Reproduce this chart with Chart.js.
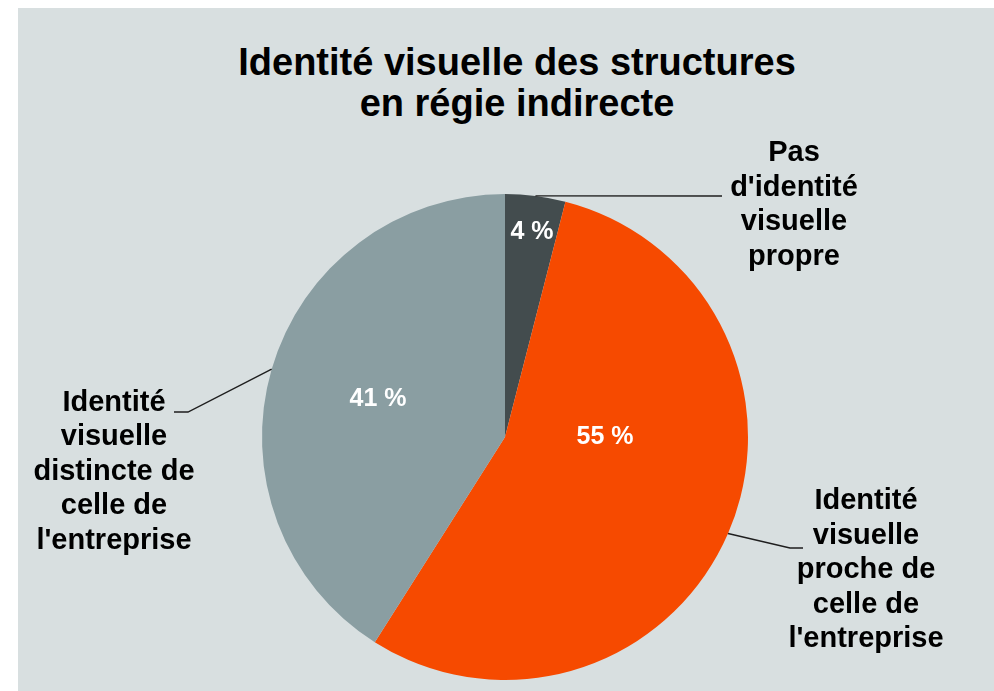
<!DOCTYPE html>
<html lang="fr">
<head>
<meta charset="utf-8">
<title>Identité visuelle des structures en régie indirecte</title>
<script src="https://cdn.jsdelivr.net/npm/chart.js@4"></script>
<style>
  html, body { margin: 0; padding: 0; background: #fff; }
  #wrap { position: relative; width: 994px; height: 691px; overflow: hidden; }
  #panel { position: absolute; left: 18px; top: 8px; right: 0; bottom: 0; background: #d8dfe0; }
  #title {
    position: absolute; left: 517px; top: 42px; transform: translateX(-50%);
    white-space: nowrap; text-align: center; color: #000;
    font: bold 38px/41px "Liberation Sans", Arial, sans-serif;
  }
  canvas { position: absolute; left: 0; top: 0; }
</style>
</head>
<body>
<div id="wrap">
  <div id="panel"></div>
  <div id="title">Identité visuelle des structures<br>en régie indirecte</div>
  <canvas id="chart" width="994" height="691"></canvas>
</div>
<script>
// data
const categories = [
  "Pas d'identité visuelle propre",
  "Identité visuelle proche de celle de l'entreprise",
  "Identité visuelle distincte de celle de l'entreprise"
];
const shares = [4, 55, 41];
const labelLines = [
  ["Pas", "d'identité", "visuelle", "propre"],
  ["Identité", "visuelle", "proche de", "celle de", "l'entreprise"],
  ["Identité", "visuelle", "distincte de", "celle de", "l'entreprise"]
];
const sliceColors = ["#434c4e", "#f64a00", "#8a9ea2"];

const FONT = '"Liberation Sans", Arial, sans-serif';

// percentage labels + outside labels with leader lines (offsets from pie centre)
const calloutPlugin = {
  id: "callouts",
  afterDatasetsDraw(chart, args, opts) {
    const ctx = chart.ctx;
    const meta = chart.getDatasetMeta(0);
    meta.data.forEach((arc, i) => {
      const { x, y, startAngle, endAngle, outerRadius } =
        arc.getProps(["x", "y", "startAngle", "endAngle", "outerRadius"], true);
      const p = opts.slices[i];
      const mid = (startAngle + endAngle) / 2;
      const ax = x + Math.cos(mid) * outerRadius;
      const ay = y + Math.sin(mid) * outerRadius;

      ctx.save();
      ctx.textAlign = "center";
      ctx.textBaseline = "middle";

      ctx.fillStyle = "#fff";
      ctx.font = "bold 25px " + FONT;
      ctx.fillText(shares[i] + " %", x + p.pct[0], y + p.pct[1]);

      ctx.strokeStyle = "#1e1e1e";
      ctx.lineWidth = 1.4;
      ctx.beginPath();
      ctx.moveTo(ax, ay);
      p.leader.forEach(([dx, dy]) => ctx.lineTo(x + dx, y + dy));
      ctx.stroke();

      ctx.fillStyle = "#000";
      ctx.font = "bold 29px " + FONT;
      labelLines[i].forEach((t, k) => {
        ctx.fillText(t, x + p.text[0], y + p.text[1] + k * 34.5);
      });
      ctx.restore();
    });
  }
};

new Chart(document.getElementById("chart"), {
  type: "pie",
  data: {
    labels: categories,
    datasets: [{
      data: shares,
      backgroundColor: sliceColors,
      borderWidth: 0,
      hoverOffset: 0
    }]
  },
  options: {
    responsive: false,
    animation: false,
    devicePixelRatio: 1,
    layout: { padding: { top: 194, bottom: 11, left: 262, right: 246 } },
    plugins: {
      legend: { display: false },
      tooltip: { enabled: false },
      callouts: {
        slices: [
          { pct: [27, -205], text: [289, -284], leader: [[217, -241]] },
          { pct: [100, 0], text: [361, 64], leader: [[285, 111], [298, 111]] },
          { pct: [-127, -38], text: [-391, -34.5], leader: [[-317, -25], [-331, -25]] }
        ]
      }
    }
  },
  plugins: [calloutPlugin]
});
</script>
</body>
</html>
